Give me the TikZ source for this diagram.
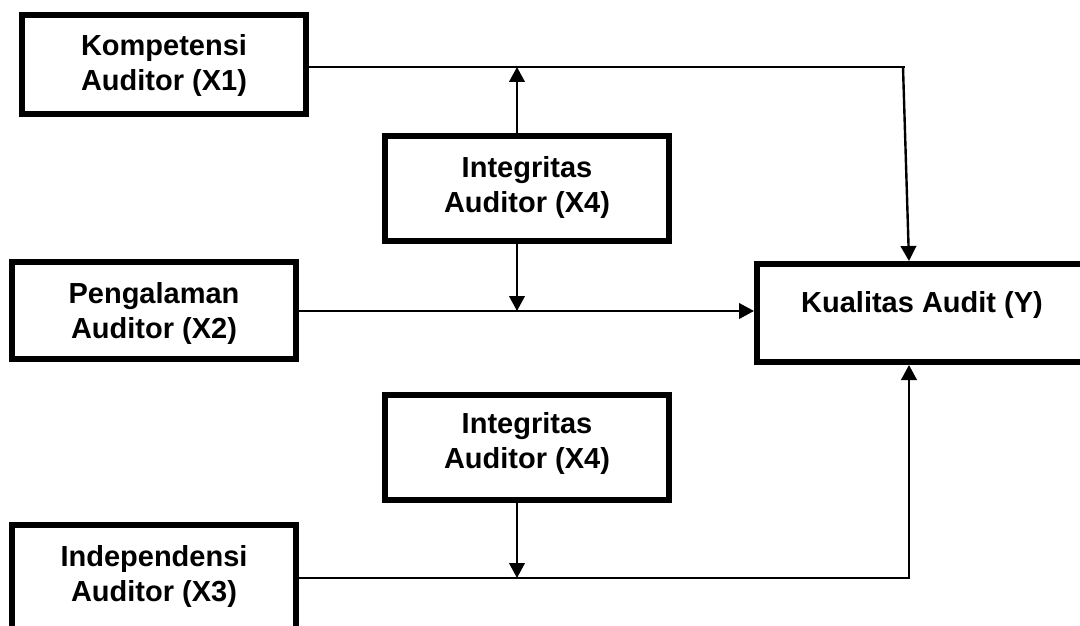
\documentclass[tikz,border=0pt]{standalone}
\usepackage{fontspec}
\setmainfont{Liberation Sans}
\usetikzlibrary{arrows.meta}
\newcommand\twolines[2]{\begin{tabular}[t]{@{}c@{}}#1\\#2\end{tabular}}
\begin{document}
\begin{tikzpicture}[x=1pt,y=-1pt,
  fbox/.style={draw=black, line width=6pt, inner sep=0pt, outer sep=0pt,
    anchor=north west, minimum width=284pt,
    font=\bfseries\fontsize{29}{35}\selectfont},
  conn/.style={draw=black, line width=2.4pt},
  arr/.style={conn, -{Triangle[length=15pt,width=15.5pt]}}]
\useasboundingbox (0,0) rectangle (1080,626);
\clip (0,0) rectangle (1080,626);
\fill[white] (0,0) rectangle (1080,626);

\node[fbox, text height=41pt, text depth=58pt] (x1) at (22,15) {\twolines{Kompetensi}{Auditor (X1)}};
\node[fbox, text height=41pt, text depth=64pt] (x4a) at (385,136) {\twolines{Integritas}{Auditor (X4)}};
\node[fbox, text height=41pt, text depth=56pt] (x2) at (12,262) {\twolines{Pengalaman}{Auditor (X2)}};
\node[fbox, minimum width=330pt, text height=48pt, text depth=50pt] (y) at (757,264) {Kualitas Audit (Y)};
\node[fbox, text height=38pt, text depth=67pt] (x4b) at (385,395) {\twolines{Integritas}{Auditor (X4)}};
\node[fbox, text height=41pt, text depth=79pt] (x3) at (12,525) {\twolines{Independensi}{Auditor (X3)}};

\coordinate (c1) at (905,67);
\coordinate (c1s) at (903,67);
\coordinate (t1) at (909,261);
\coordinate (a1) at (517,67);
\coordinate (a2) at (517,311);
\coordinate (yl) at (754,311);
\coordinate (a3) at (517,578);
\coordinate (c3) at (909,578);
\coordinate (t3) at (909,365);

\draw[conn] (x1.east |- c1) -- (c1);
\draw[arr] (c1s) -- (t1);
\draw[arr] (x4a.north -| a1) -- (a1);
\draw[arr] (x4a.south -| a2) -- (a2);
\draw[arr] (x2.east |- yl) -- (yl);
\draw[arr] (x4b.south -| a3) -- (a3);
\draw[arr] (x3.east |- c3) -- (c3) -- (t3);
\end{tikzpicture}
\end{document}
